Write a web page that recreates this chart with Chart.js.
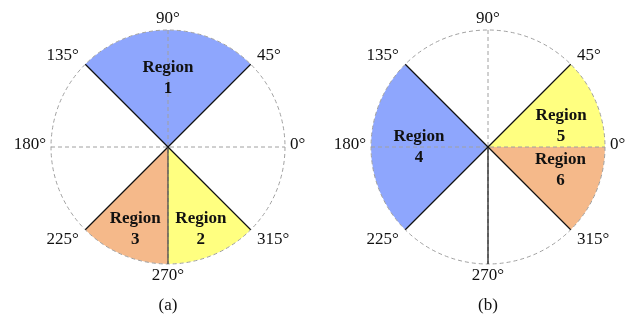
<!DOCTYPE html>
<html>
<head>
<meta charset="utf-8">
<script src="https://cdn.jsdelivr.net/npm/chart.js@4/dist/chart.umd.min.js"></script>
<style>
  html, body { margin: 0; padding: 0; background: #fff; overflow: hidden; }
  body { width: 627px; height: 320px; position: relative; }
  .panel { position: absolute; top: 0; width: 320px; height: 320px; }
  #panelA { left: 8px; }
  #panelB { left: 328px; }
</style>
</head>
<body>
<div class="panel" id="panelA"><canvas id="chartA" width="320" height="320"></canvas></div>
<div class="panel" id="panelB"><canvas id="chartB" width="320" height="320"></canvas></div>
<script>
// Direction ticks around each circle (degrees, counter-clockwise from east)
const angleTicks = [0, 45, 90, 135, 180, 225, 270, 315];

// Panel (a): sectors listed clockwise, starting at 135°
const sliceLabelsA = ['Region 1', '', 'Region 2', 'Region 3', ''];
const sliceSpansA = [90, 90, 45, 45, 90];
const startAngleA = 135;
const solidEdgesA = [45, 135, 225, 270, 315];

// Panel (b): sectors listed clockwise, starting at 45°
const sliceLabelsB = ['Region 5', 'Region 6', '', 'Region 4', ''];
const sliceSpansB = [45, 45, 90, 90, 90];
const startAngleB = 45;
const solidEdgesB = [45, 135, 225, 270, 315];

const captions = ['(a)', '(b)'];

// ---- styling ----
const BLUE = '#8ea6fd';
const YELLOW = '#ffff80';
const ORANGE = '#f5b98a';
const NONE = 'rgba(0,0,0,0)';
const fillA = [BLUE, NONE, YELLOW, ORANGE, NONE];
const fillB = [YELLOW, ORANGE, NONE, BLUE, NONE];
// label anchors inside each sector: [direction in degrees, fraction of radius]
const anchorsA = [[90, 0.59], null, [292, 0.75], [248, 0.75], null];
const anchorsB = [[16, 0.65], [342.5, 0.65], null, [180, 0.59], null];
const edgeColorsA = { 270: '#444' };
const edgeColorsB = {};

const SERIF = '"Liberation Serif", "Times New Roman", serif';

const compassPlugin = {
  id: 'compass',
  afterDatasetsDraw(chart, args, opts) {
    const arc = chart.getDatasetMeta(0).data[0];
    const cx = arc.x, cy = arc.y, R = arc.outerRadius;
    const pt = (deg, r) => {
      const t = deg * Math.PI / 180;
      return [cx + r * Math.cos(t), cy - r * Math.sin(t)];
    };
    const ctx = chart.ctx;
    ctx.save();

    // dashed reference circle and axes
    ctx.strokeStyle = '#a0a0a0';
    ctx.lineWidth = 1;
    ctx.setLineDash([4, 3]);
    ctx.beginPath();
    ctx.arc(cx, cy, R, 0, Math.PI * 2);
    ctx.stroke();
    ctx.beginPath();
    ctx.moveTo(cx - R, cy); ctx.lineTo(cx + R, cy);
    ctx.moveTo(cx, cy - R); ctx.lineTo(cx, cy + R);
    ctx.stroke();
    ctx.setLineDash([]);

    // solid sector edges
    opts.edges.forEach(deg => {
      const [x, y] = pt(deg, R);
      ctx.strokeStyle = opts.edgeColors[deg] || '#111';
      ctx.lineWidth = 1.2;
      ctx.beginPath();
      ctx.moveTo(cx, cy);
      ctx.lineTo(x, y);
      ctx.stroke();
    });

    // region names
    ctx.fillStyle = '#111';
    ctx.font = 'bold 17px ' + SERIF;
    ctx.textAlign = 'center';
    ctx.textBaseline = 'middle';
    chart.data.labels.forEach((name, i) => {
      const a = opts.anchors[i];
      if (!name || !a) return;
      const [x, y] = pt(a[0], a[1] * R);
      const parts = name.split(' ');
      ctx.fillText(parts[0], x, y - 10);
      ctx.fillText(parts[1], x, y + 11);
    });

    // direction ticks
    ctx.font = '17px ' + SERIF;
    ctx.fillStyle = '#111';
    angleTicks.forEach(deg => {
      const t = deg * Math.PI / 180;
      const c = Math.cos(t), s = Math.sin(t);
      const horizontal = Math.abs(s) < 0.01;
      const [x, y] = pt(deg, R + (horizontal ? 5 : 9));
      ctx.textAlign = c > 0.01 ? 'left' : (c < -0.01 ? 'right' : 'center');
      ctx.textBaseline = 'middle';
      ctx.fillText(deg + '°', x, y + (s < -0.01 ? 3 : -2));
    });

    // caption
    ctx.textAlign = 'center';
    ctx.textBaseline = 'middle';
    ctx.fillText(opts.caption, cx, 306);
    ctx.restore();
  }
};

function makePanel(id, labels, spans, start, colors, anchors, edges, edgeColors, caption) {
  return new Chart(document.getElementById(id), {
    type: 'pie',
    data: {
      labels: labels,
      datasets: [{
        data: spans,
        backgroundColor: colors,
        borderWidth: 0,
        hoverOffset: 0
      }]
    },
    options: {
      responsive: false,
      animation: false,
      rotation: 90 - start,
      layout: { padding: { top: 30, bottom: 56, left: 43, right: 43 } },
      plugins: {
        legend: { display: false },
        tooltip: { enabled: false },
        compass: { anchors: anchors, edges: edges, edgeColors: edgeColors, caption: caption }
      }
    },
    plugins: [compassPlugin]
  });
}

makePanel('chartA', sliceLabelsA, sliceSpansA, startAngleA, fillA, anchorsA, solidEdgesA, edgeColorsA, captions[0]);
makePanel('chartB', sliceLabelsB, sliceSpansB, startAngleB, fillB, anchorsB, solidEdgesB, edgeColorsB, captions[1]);
</script>
</body>
</html>
